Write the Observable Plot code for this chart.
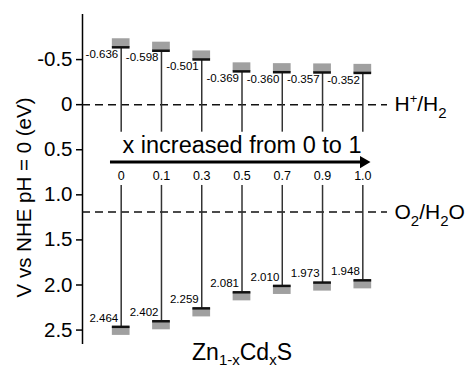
<!DOCTYPE html>
<html><head><meta charset="utf-8">
<script src="https://cdn.jsdelivr.net/npm/d3@7"></script>
<script src="https://cdn.jsdelivr.net/npm/@observablehq/plot@0.6"></script>
<style>body{margin:0;background:#fff} svg{display:block}</style>
</head><body><div id="chart"></div>
<script>
const categories = ["0","0.1","0.3","0.5","0.7","0.9","1.0"];
const cbValues = [-0.636,-0.598,-0.501,-0.369,-0.360,-0.357,-0.352];
const vbValues = [2.464,2.402,2.259,2.081,2.010,1.973,1.948];
const yTicks = [-0.5,0,0.5,1.0,1.5,2.0,2.5];
const yTickLabels = ["-0.5","0","0.5","1.0","1.5","2.0","2.5"];
const refLevels = [0, 1.19];
const refLabels = ["H+/H2","O2/H2O"];
const yTitle = "V vs NHE pH = 0 (eV)";
const xTitle = "Zn1-xCdxS";
const arrowText = "x increased from 0 to 1";

const data = categories.map((c,i)=>({i, c, cb: cbValues[i], vb: vbValues[i]}));
const refs = refLevels.map((v,i)=>({v, label: refLabels[i]}));

const halfW = 0.22, blockH = 0.095;
const xDom = [-0.961, 6.613], yDom = [-1.0, 2.66];
const font = "'Liberation Sans', Arial, Helvetica, sans-serif";

const chart = Plot.plot({
  width: 469, height: 366,
  marginLeft: 82, marginRight: 82, marginTop: 14, marginBottom: 22,
  style: {fontFamily: font, background: "#fff", color: "#000", overflow: "visible"},
  x: {type: "linear", domain: xDom, axis: null},
  y: {domain: yDom, reverse: true},
  marks: [
    Plot.ruleX([xDom[0]], {y1: yDom[0], y2: yDom[1], stroke: "#000", strokeWidth: 1.5}),
    Plot.axisY({ticks: yTicks, tickFormat: d => yTickLabels[yTicks.indexOf(d)], tickSize: 6, tickPadding: 4, fontSize: 20.5, label: null, strokeWidth: 1.5, stroke: "#000"}),
    Plot.text([yTitle], {frameAnchor: "left", dx: -58, dy: 18, rotate: -90, fontSize: 20.5, textAnchor: "middle", lineAnchor: "middle"}),
    // reference levels
    Plot.ruleY(refs, {y: "v", stroke: "#111", strokeWidth: 1.5, strokeDasharray: "8,5"}),
    Plot.text(refs, {y: "v", text: "label", frameAnchor: "right", textAnchor: "start", dx: 7, fontSize: 21, lineAnchor: "middle"}),
    // conduction band
    Plot.ruleX(data, {x: "i", y1: "cb", y2: 0.305, stroke: "#333", strokeWidth: 1.5}),
    Plot.rect(data, {x1: d => d.i - halfW, x2: d => d.i + halfW, y1: d => d.cb - blockH, y2: "cb", fill: "#a0a0a0"}),
    Plot.ruleY(data, {x1: d => d.i - halfW, x2: d => d.i + halfW, y: "cb", stroke: "#111", strokeWidth: 2.5}),
    Plot.text(data, {x: "i", y: "cb", text: d => d.cb.toFixed(3), textAnchor: "end", dx: -3, dy: 7, fontSize: 11.5, lineAnchor: "middle"}),
    // valence band
    Plot.ruleX(data, {x: "i", y1: 0.896, y2: "vb", stroke: "#333", strokeWidth: 1.5}),
    Plot.rect(data, {x1: d => d.i - halfW, x2: d => d.i + halfW, y1: "vb", y2: d => d.vb + blockH, fill: "#a0a0a0"}),
    Plot.ruleY(data, {x1: d => d.i - halfW, x2: d => d.i + halfW, y: "vb", stroke: "#111", strokeWidth: 2.5}),
    Plot.text(data, {x: "i", y: "vb", text: d => d.vb.toFixed(3), textAnchor: "end", dx: -3, dy: -9, fontSize: 11.5, lineAnchor: "middle"}),
    // category labels
    Plot.text(data, {x: "i", y: 0.796, text: "c", fontSize: 12.5, lineAnchor: "middle"}),
    // arrow
    Plot.ruleY([0.637], {x1: -0.266, x2: 6.0, stroke: "#000", strokeWidth: 3}),
    Plot.dot([0.637], {x: 6.017, y: d => d, symbol: "triangle", rotate: 90, r: 4.5, fill: "#000", stroke: null}),
    Plot.text([arrowText], {x: 3, y: 0.541, lineAnchor: "bottom", fontSize: 23.5}),
    // x title
    Plot.text([xTitle], {frameAnchor: "bottom", dx: 7, dy: 15, lineAnchor: "bottom", fontSize: 23})
  ]
});
document.getElementById("chart").appendChild(chart);

function rich(content, parts) {
  d3.select(chart).selectAll("text").filter(function(){ return this.textContent === content; }).each(function(){
    const t = d3.select(this);
    t.text(null);
    let shift = 0;
    for (const p of parts) {
      const target = p.shift || 0;
      const ts = t.append("tspan").text(p.t);
      if (target !== shift) ts.attr("dy", target - shift);
      if (p.size) ts.attr("font-size", p.size);
      shift = target;
    }
  });
}
rich("H+/H2", [{t:"H"},{t:"+",shift:-8,size:13},{t:"/H"},{t:"2",shift:7,size:15}]);
rich("O2/H2O", [{t:"O"},{t:"2",shift:7,size:15},{t:"/H"},{t:"2",shift:7,size:15},{t:"O"}]);
rich("Zn1-xCdxS", [{t:"Zn"},{t:"1-x",shift:5,size:15},{t:"Cd"},{t:"x",shift:5,size:15},{t:"S"}]);
</script>
</body></html>
